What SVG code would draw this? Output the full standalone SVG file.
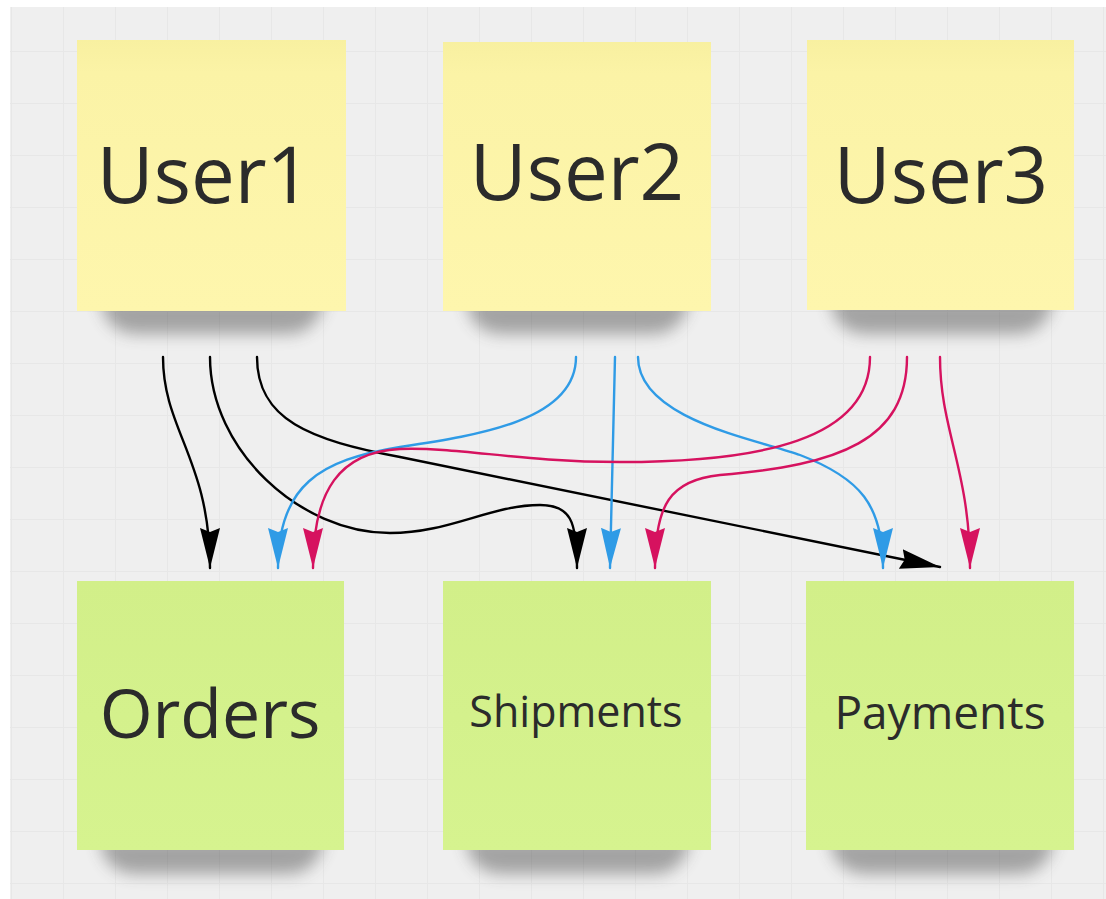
<svg xmlns="http://www.w3.org/2000/svg" width="1106" height="899" viewBox="0 0 1106 899">
<defs>
<pattern id="grid" x="11" y="51" width="52" height="52" patternUnits="userSpaceOnUse">
<path d="M0.5,0 V52 M0,0.5 H52" stroke="#e7e7e7" stroke-width="1" fill="none"/>
</pattern>
<filter id="shadow" x="-20%" y="-100%" width="140%" height="300%">
<feGaussianBlur stdDeviation="8"/>
</filter>
<linearGradient id="yellowG" x1="0" y1="0" x2="0" y2="1">
<stop offset="0" stop-color="#f8f0a0"/>
<stop offset="0.12" stop-color="#fbf3a6"/>
<stop offset="1" stop-color="#fef6ad"/>
</linearGradient>
<linearGradient id="greenG" x1="0" y1="0" x2="0" y2="1">
<stop offset="0" stop-color="#d2ef89"/>
<stop offset="1" stop-color="#d6f38f"/>
</linearGradient>
<marker id="ahBlack" viewBox="0 0 40 20" refX="40" refY="10" markerWidth="40" markerHeight="20" markerUnits="userSpaceOnUse" orient="auto">
<path d="M0,0 L40,10 L0,20 L4,10 Z" fill="#000"/>
</marker>
<marker id="ahBlue" viewBox="0 0 40 20" refX="40" refY="10" markerWidth="40" markerHeight="20" markerUnits="userSpaceOnUse" orient="auto">
<path d="M0,0 L40,10 L0,20 L4,10 Z" fill="#2f9be6"/>
</marker>
<marker id="ahRed" viewBox="0 0 40 20" refX="40" refY="10" markerWidth="40" markerHeight="20" markerUnits="userSpaceOnUse" orient="auto">
<path d="M0,0 L40,10 L0,20 L4,10 Z" fill="#d6125f"/>
</marker>
</defs>
<style>
.shadow { fill: #3a3a3a; opacity: 0.42; filter: url(#shadow); }
.yellow { fill: url(#yellowG); }
.green { fill: url(#greenG); }
.big { font-family: "Open Sans", "Noto Sans", "Liberation Sans", sans-serif; fill: #2b2b2b; text-anchor: middle; }
.conn { fill: none; stroke-width: 2.4; stroke-linecap: round; }
.black { stroke: #000; marker-end: url(#ahBlack); }
.blue { stroke: #2f9be6; marker-end: url(#ahBlue); }
.red { stroke: #d6125f; marker-end: url(#ahRed); }
</style>
<rect x="0" y="0" width="1106" height="899" fill="#ffffff"/>
<rect x="10" y="7" width="1096" height="892" fill="#efefef"/>
<rect x="10" y="7" width="1096" height="892" fill="url(#grid)"/>

<g id="user1">
<path class="shadow" d="M100,298 H325 Q318,332 290,334 H135 Q105,332 100,298 Z"/>
<rect class="yellow" x="77" y="40" width="269" height="271"/>
<text class="big" x="204" y="203" font-size="78">User1</text>
</g>
<g id="user2">
<path class="shadow" d="M466,298 H690 Q683,332 655,334 H500 Q470,332 466,298 Z"/>
<rect class="yellow" x="443" y="42" width="268" height="269"/>
<text class="big" x="577" y="200" font-size="78">User2</text>
</g>
<g id="user3">
<path class="shadow" d="M830,298 H1054 Q1047,332 1019,334 H864 Q834,332 830,298 Z"/>
<rect class="yellow" x="807" y="40" width="267" height="270"/>
<text class="big" x="941" y="203" font-size="78">User3</text>
</g>
<g id="orders">
<path class="shadow" d="M99,838 H325 Q318,872 290,874 H134 Q104,872 99,838 Z"/>
<rect class="green" x="77" y="581" width="267" height="269"/>
<text class="big" x="210" y="738" font-size="68">Orders</text>
</g>
<g id="shipments">
<path class="shadow" d="M465,838 H691 Q684,872 656,874 H500 Q470,872 465,838 Z"/>
<rect class="green" x="443" y="581" width="268" height="269"/>
<text class="big" x="576" y="727" font-size="43">Shipments</text>
</g>
<g id="payments">
<path class="shadow" d="M829,838 H1055 Q1048,872 1020,874 H864 Q834,872 829,838 Z"/>
<rect class="green" x="806" y="581" width="268" height="269"/>
<text class="big" x="940" y="729" font-size="46">Payments</text>
</g>

<g id="connectors">
<path class="conn black" d="M163,357 C163,430 210,460 210,568"/>
<path class="conn black" d="M210,357 C210,450 300,533 390,533 C450,533 490,505 540,505 C570,505 577,520 577,568"/>
<path class="conn black" d="M257,357 C257,420 310,440 400,457 L940,567"/>
<path class="conn blue" d="M576,357 C576,420 480,435 400,447 C320,460 278,485 278,568"/>
<path class="conn blue" d="M615,357 L610,568"/>
<path class="conn blue" d="M638,357 C638,420 760,440 800,455 C860,478 883,505 883,568"/>
<path class="conn red" d="M870,357 C870,440 760,462 620,462 C520,462 460,447 400,449 C340,452 313,490 313,568"/>
<path class="conn red" d="M907,357 C907,440 840,465 720,475 C670,480 655,505 655,568"/>
<path class="conn red" d="M940,357 C940,430 970,470 970,568"/>
</g>
</svg>
